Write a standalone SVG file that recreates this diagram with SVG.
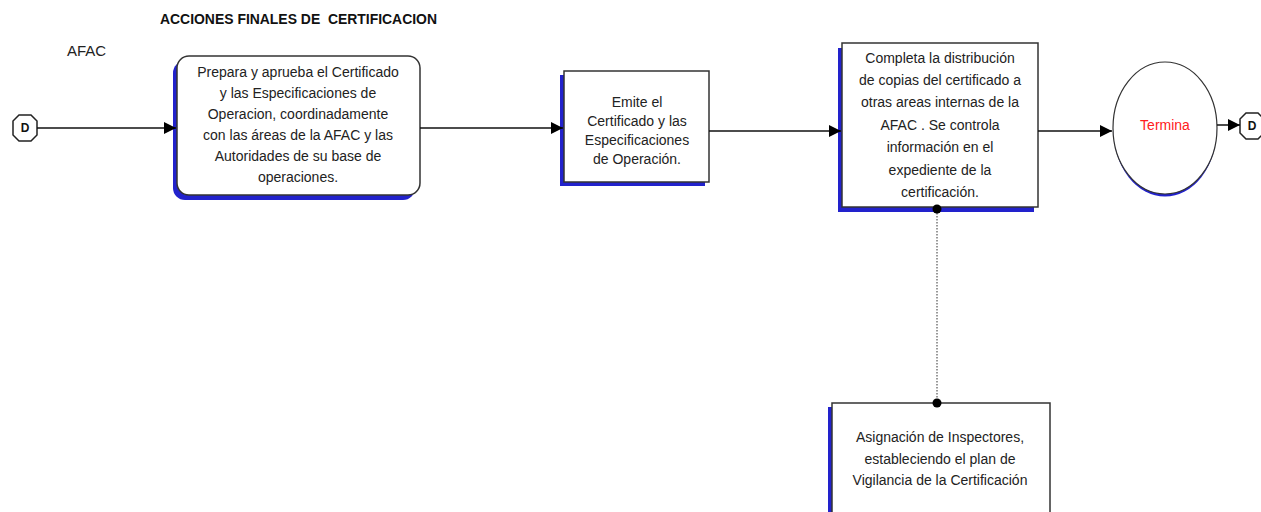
<svg xmlns="http://www.w3.org/2000/svg" width="1261" height="512" viewBox="0 0 1261 512">
<defs>
<marker id="arr" viewBox="0 0 12 12" refX="12" refY="6" markerWidth="12" markerHeight="12" markerUnits="userSpaceOnUse" orient="auto">
<path d="M0,0 L12,6 L0,12 Z" fill="#000"/>
</marker>
</defs>
<style>
.t{font-family:"Liberation Sans",Arial,sans-serif;font-size:14px;fill:#222;text-anchor:middle}
.box{fill:#fff;stroke:#333;stroke-width:1.5}
.sh{fill:#2222cc}
.ln{stroke:#111;stroke-width:1.5;fill:none}
.conn{fill:#fff;stroke:#222;stroke-width:1.5}
.ct{font-family:"Liberation Sans",Arial,sans-serif;font-size:12px;font-weight:bold;fill:#111;text-anchor:middle}
</style>
<rect width="1261" height="512" fill="#fff"/>
<text x="160" y="24" xml:space="preserve" textLength="277" lengthAdjust="spacingAndGlyphs" style="font-family:'Liberation Sans',Arial,sans-serif;font-size:14px;font-weight:bold;fill:#111">ACCIONES FINALES DE  CERTIFICACION</text>
<text x="67" y="56" style="font-family:'Liberation Sans',Arial,sans-serif;font-size:15px;fill:#222">AFAC</text>

<g id="startD">
<path class="conn" d="M19,115 L31,115 L37,121 L37,135 L31,141 L19,141 L13,135 L13,121 Z"/>
<text class="ct" x="25" y="132">D</text>
</g>

<g id="box1">
<rect class="sh" x="173" y="61" width="242" height="139" rx="12"/>
<rect class="box" x="177" y="56" width="243" height="139" rx="12"/>
<text class="t" x="298" y="77">Prepara y aprueba el Certificado</text>
<text class="t" x="298" y="98">y las Especificaciones de</text>
<text class="t" x="298" y="119">Operacion, coordinadamente</text>
<text class="t" x="298" y="140">con las áreas de la AFAC y las</text>
<text class="t" x="298" y="161">Autoridades de su base de</text>
<text class="t" x="298" y="182">operaciones.</text>
</g>

<g id="box2">
<rect class="sh" x="560" y="75" width="145" height="111"/>
<rect class="box" x="564" y="71" width="145" height="111"/>
<text class="t" x="637" y="107">Emite el</text>
<text class="t" x="637" y="126">Certificado y las</text>
<text class="t" x="637" y="145">Especificaciones</text>
<text class="t" x="637" y="164">de Operación.</text>
</g>

<g id="box3">
<rect class="sh" x="838" y="48" width="196" height="164"/>
<rect class="box" x="842" y="43" width="196" height="164"/>
<text class="t" x="940" y="63">Completa la distribución</text>
<text class="t" x="940" y="85">de copias del certificado a</text>
<text class="t" x="940" y="107">otras areas internas de la</text>
<text class="t" x="940" y="130">AFAC . Se controla</text>
<text class="t" x="940" y="152">información en el</text>
<text class="t" x="940" y="175">expediente de la</text>
<text class="t" x="940" y="197">certificación.</text>
</g>

<g id="termina">
<ellipse cx="1165" cy="130.5" rx="51.5" ry="66" fill="#2222cc"/>
<ellipse cx="1165" cy="128" rx="52" ry="66" fill="#fff" stroke="#333" stroke-width="1.2"/>
<text x="1165" y="130" style="font-family:'Liberation Sans',Arial,sans-serif;font-size:14px;fill:#ff2020;text-anchor:middle">Termina</text>
</g>

<g id="endD">
<path class="conn" d="M1246,113 L1258,113 L1264,119 L1264,133 L1258,139 L1246,139 L1240,133 L1240,119 Z"/>
<text class="ct" x="1252" y="130">D</text>
</g>

<g id="box4">
<rect class="sh" x="828" y="407" width="218" height="110"/>
<rect class="box" x="832" y="403" width="218" height="115"/>
<text class="t" x="940" y="442">Asignación de Inspectores,</text>
<text class="t" x="940" y="464">estableciendo el plan de</text>
<text class="t" x="940" y="485">Vigilancia de la Certificación</text>
</g>

<g id="connectors">
<line class="ln" x1="37" y1="128" x2="176" y2="128" marker-end="url(#arr)"/>
<line class="ln" x1="420" y1="128" x2="563" y2="128" marker-end="url(#arr)"/>
<line class="ln" x1="709" y1="131" x2="841" y2="131" marker-end="url(#arr)"/>
<line class="ln" x1="1038" y1="131" x2="1112" y2="131" marker-end="url(#arr)"/>
<line class="ln" x1="1217" y1="125" x2="1240" y2="125" marker-end="url(#arr)"/>
<line x1="937" y1="210" x2="937" y2="403" stroke="#777" stroke-width="1.5" stroke-dasharray="1.5,1.5"/>
<circle cx="937" cy="209" r="4.5" fill="#000"/>
<circle cx="937" cy="403" r="4.5" fill="#000"/>
</g>
</svg>
